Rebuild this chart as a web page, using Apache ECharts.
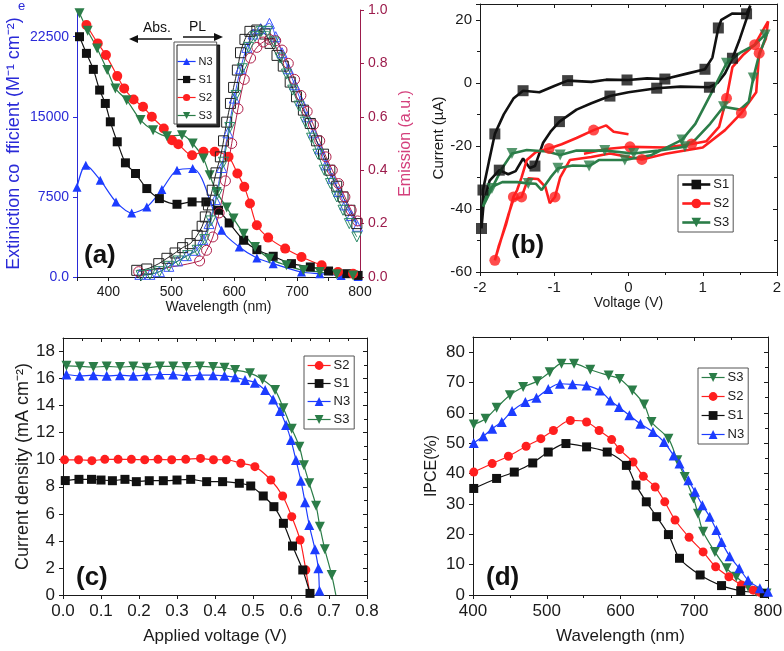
<!DOCTYPE html>
<html>
<head>
<meta charset="utf-8">
<script src="https://cdn.jsdelivr.net/npm/echarts@6/dist/echarts.min.js"></script>
<style>
html, body { margin: 0; padding: 0; background: #fff; }
#chart { width: 784px; height: 651px; }
</style>
</head>
<body>
<div id="chart"></div>
<script>
// (a) absorption [wavelength, extinction coefficient]
const absN3 = [[350,8400],[364,10470],[387,9060],[412,7030],[437,6000],[461,6560],[485,8190],[509,10000],[534,10160],[580,4380],[608,2810],[636,1780],[662,1250],[707,470],[736,310],[770,150],[797,50]]
const absS1 = [[354,22500],[365,20940],[376,19440],[386,17500],[395,16250],[403,14530],[414,12660],[427,10690],[443,9690],[461,8280],[481,7340],[509,6810],[533,7030],[555,7030],[575,6250],[592,5060],[615,3440],[636,2560],[662,1940],[691,1250],[721,940],[750,560],[779,310],[797,150]]
const absS2 = [[365,23590],[383,21875],[396,20780],[414,18810],[425,17660],[440,16625],[455,15940],[469,15000],[488,13900],[501,12810],[511,12440],[533,11400],[551,11720],[569,11720],[591,11250],[605,9690],[616,8440],[625,6875],[636,4840],[654,3690],[681,2660],[707,1875],[739,1090],[765,470],[789,310]]
const absS3 = [[354,24690],[367,23060],[382,21400],[398,19375],[411,17660],[429,16560],[451,14690],[471,13750],[493,13190],[517,13280],[534,12500],[551,11090],[561,9530],[572,7970],[588,6500],[599,5470],[615,4060],[633,2810],[656,1720],[683,1090],[710,625],[736,470],[763,250],[789,150]]

// (a) emission [wavelength, a.u.]
const emN3 = [[450,0.01],[466,0.01],[481,0.02],[496,0.04],[510,0.06],[524,0.08],[538,0.1],[550,0.14],[560,0.2],[570,0.29],[580,0.41],[590,0.54],[600,0.67],[610,0.78],[620,0.86],[630,0.91],[642,0.93],[656,0.95],[666,0.9],[676,0.84],[686,0.78],[696,0.72],[706,0.66],[716,0.6],[726,0.54],[736,0.48],[746,0.42],[756,0.37],[766,0.32],[776,0.27],[786,0.23],[796,0.19]]
const emS1 = [[445,0.025],[461,0.03],[480,0.05],[493,0.07],[506,0.09],[518,0.11],[530,0.125],[541,0.156],[549,0.19],[554,0.225],[559,0.27],[565,0.325],[571,0.39],[578,0.45],[583,0.51],[588,0.58],[594,0.65],[599,0.71],[605,0.775],[610,0.84],[617,0.89],[625,0.92],[636,0.925],[649,0.91],[657,0.875],[668,0.83],[678,0.79],[689,0.73],[699,0.675],[710,0.625],[721,0.575],[731,0.51],[742,0.46],[752,0.4],[763,0.34],[773,0.3],[784,0.25],[795,0.2]]
const emS2 = [[448,0.02],[545,0.06],[556,0.1],[566,0.15],[576,0.24],[586,0.36],[596,0.5],[606,0.63],[616,0.74],[626,0.82],[636,0.86],[646,0.88],[656,0.89],[666,0.885],[676,0.85],[686,0.8],[696,0.74],[706,0.68],[716,0.62],[726,0.57],[736,0.51],[746,0.45],[756,0.4],[766,0.35],[776,0.3],[786,0.25],[796,0.21]]
const emS3 = [[452,0.005],[466,0.01],[481,0.02],[496,0.04],[511,0.06],[526,0.08],[541,0.1],[553,0.14],[563,0.21],[573,0.31],[583,0.43],[593,0.56],[603,0.68],[613,0.78],[623,0.86],[633,0.9],[643,0.92],[653,0.92],[663,0.88],[673,0.82],[683,0.76],[693,0.7],[703,0.64],[713,0.58],[723,0.52],[733,0.46],[743,0.4],[753,0.35],[763,0.3],[773,0.25],[783,0.2],[795,0.15]]

// (b) cyclic voltammetry [V, uA] traces and marked points
const cvS1 = [[0,0.9],[-0.3,1.0],[-0.5,0.3],[-0.82,0.7],[-1.0,-1],[-1.2,-3],[-1.42,-2.5],[-1.55,-5],[-1.68,-10],[-1.8,-16.2],[-1.88,-25],[-1.96,-34],[-1.98,-46.2],[-1.95,-38],[-1.87,-31],[-1.74,-27.7],[-1.62,-29],[-1.52,-28],[-1.42,-24],[-1.33,-27],[-1.26,-26.4],[-1.15,-19],[-1.05,-15.5],[-0.93,-12.3],[-0.7,-8.5],[-0.5,-6.5],[-0.25,-4.2],[0,-3],[0.38,-1.7],[0.7,-1.2],[1.09,-1.4],[1.2,0],[1.3,3],[1.4,7.8],[1.5,14],[1.6,21],[1.64,24.5],[1.59,21.9],[1.4,22],[1.25,20],[1.21,17.4],[1.13,8],[1.03,4.3],[0.8,3],[0.49,1.2],[0.25,1.4],[0,0.9]]
const cvS1Marks = [[-0.02,0.9],[-0.82,0.7],[-1.42,-2.5],[-1.8,-16.2],[-1.96,-34],[-1.98,-46.2],[-1.74,-27.7],[-1.26,-26.4],[-0.93,-12.3],[-0.25,-4.2],[0.38,-1.7],[1.09,-1.4],[1.4,7.8],[1.59,21.9],[1.21,17.4],[1.03,4.3],[0.49,1.2]]
const cvS2 = [[0,-16.3],[-0.2,-15.5],[-0.3,-13.5],[-0.47,-15],[-0.7,-17.5],[-0.9,-19.5],[-1.07,-20.8],[-1.25,-22],[-1.37,-24.5],[-1.44,-30],[-1.5,-34],[-1.55,-36.2],[-1.65,-45],[-1.75,-52],[-1.8,-56.3],[-1.72,-50],[-1.62,-42],[-1.55,-37],[-1.44,-36.2],[-1.35,-30.3],[-1.22,-30.5],[-1.12,-33],[-1.06,-38.2],[-0.99,-36.2],[-0.92,-30],[-0.79,-24.5],[-0.5,-23.5],[-0.25,-22.4],[0.18,-24.3],[0.5,-22.5],[1.0,-20.5],[1.3,-15],[1.52,-9.6],[1.72,-3],[1.76,9.4],[1.85,14],[1.88,19.5],[1.7,12.1],[1.55,9],[1.4,5],[1.32,-4.9],[1.22,-14],[1.05,-18.5],[0.85,-19.4],[0.5,-20.5],[0.02,-20.3],[-0.3,-21],[-0.6,-22.5]]
const cvS2Marks = [[-1.8,-56.3],[-1.55,-36.2],[-1.44,-36.2],[-0.99,-36.2],[-1.07,-20.8],[-0.47,-15],[0.02,-20.3],[0.18,-24.3],[0.85,-19.4],[1.32,-4.9],[1.52,-9.6],[1.7,12.1],[1.76,9.4]]
const cvS3 = [[1.87,16],[1.75,8],[1.68,1.5],[1.62,-6],[1.5,-8.5],[1.28,-7.6],[1.1,-13],[0.9,-18],[0.76,-20.3],[0.4,-21.5],[0.07,-22.4],[-0.32,-21.5],[-0.7,-21.5],[-0.92,-22.9],[-1.1,-21.8],[-1.37,-21.3],[-1.57,-22.4],[-1.7,-27],[-1.84,-33.5],[-1.96,-39.3],[-1.9,-35],[-1.84,-33],[-1.7,-31.5],[-1.5,-31.5],[-1.35,-31.9],[-1.25,-32],[-1.17,-34],[-1.05,-30],[-0.95,-27.1],[-0.75,-26.2],[-0.53,-26.4],[-0.4,-24.5],[-0.05,-24.5],[0.3,-23],[0.72,-18.1],[0.9,-13],[1.1,-4],[1.32,6.2],[1.5,9.5],[1.7,12],[1.87,16]]
const cvS3Marks = [[1.84,15.2],[1.68,1.5],[1.28,-7.6],[0.76,-20.3],[0.07,-22.4],[-0.32,-21.5],[-0.92,-22.9],[-1.57,-22.4],[-1.84,-33.5],[-1.35,-31.9],[-0.95,-27.1],[-0.53,-26.4],[-0.05,-24.5],[0.72,-18.1],[1.32,6.2]]

// (c) J-V curves [V, mA cm-2]; points with J = 0 are curve ends only
const jvS2 = [[0.004,9.99],[0.041,10],[0.076,9.93],[0.11,10.03],[0.145,10.03],[0.18,10.03],[0.215,10],[0.25,10.03],[0.286,10],[0.323,10.03],[0.362,10.1],[0.396,10],[0.43,10],[0.468,9.74],[0.505,9.49],[0.547,8.5],[0.578,7.32],[0.602,5.79],[0.624,4.07],[0.639,1.85],[0.65,0]]
const jvS1 = [[0.006,8.46],[0.042,8.55],[0.075,8.55],[0.1,8.5],[0.13,8.45],[0.163,8.55],[0.193,8.38],[0.227,8.45],[0.264,8.45],[0.3,8.5],[0.336,8.55],[0.378,8.38],[0.42,8.38],[0.464,8.26],[0.494,8.06],[0.527,7.32],[0.555,6.53],[0.58,5.3],[0.604,3.62],[0.631,1.85],[0.65,0.12]]
const jvN3 = [[0.009,16.3],[0.044,16.2],[0.08,16.25],[0.115,16.2],[0.15,16.25],[0.185,16.2],[0.22,16.25],[0.255,16.3],[0.29,16.3],[0.325,16.2],[0.36,16.25],[0.395,16.25],[0.425,16.2],[0.453,16.1],[0.479,15.9],[0.505,15.7],[0.532,15.15],[0.553,14.46],[0.571,13.6],[0.587,12.56],[0.6,11.45],[0.613,9.98],[0.626,8.45],[0.637,6.85],[0.648,5.17],[0.663,3.38],[0.672,1.97],[0.675,0.32],[0.678,0]]
const jvS3 = [[0.009,16.94],[0.044,16.9],[0.08,16.85],[0.115,16.9],[0.15,16.85],[0.185,16.9],[0.22,16.8],[0.255,16.9],[0.29,16.9],[0.325,16.85],[0.36,16.9],[0.395,16.85],[0.425,16.8],[0.453,16.63],[0.492,16.4],[0.525,15.94],[0.558,15.15],[0.58,13.8],[0.602,12.3],[0.622,10.96],[0.634,9.6],[0.648,8.26],[0.666,6.6],[0.676,5.05],[0.689,3.38],[0.707,1.48],[0.718,0]]

// (d) IPCE [wavelength, %]
const ipceS3 = [[401,56.2],[417,58.1],[432,61.7],[450,65.8],[468,68.5],[487,70.4],[504,73.4],[520,76.2],[537,76.2],[559,74.2],[584,72.3],[599,71.2],[616,67.4],[632,62.8],[642,57],[665,51.5],[677,44.4],[687,38.9],[699,31.8],[705,26.8],[712,20.8],[728,14.2],[744,8.8],[757,6],[773,2.7],[784,1.1],[798,0.5]]
const ipceS2 = [[401,40.5],[426,43.3],[448,45.7],[472,49],[492,51.5],[509,54.2],[532,57.5],[554,57],[571,54.2],[588,51.2],[599,47.9],[617,43.8],[631,39.1],[647,35.6],[660,30.7],[674,24.7],[693,19],[712,14.2],[729,9.3],[747,6],[764,3.3],[780,1.6],[789,0.9]]
const ipceS1 = [[401,35.1],[432,38.4],[456,40.5],[481,43.5],[502,47.1],[526,49.9],[554,48.8],[582,47.1],[608,42.7],[621,36.2],[635,30.7],[649,25.8],[665,19.9],[680,12.1],[708,6.6],[737,3.1],[763,1.4],[795,0.5]]
const ipceN3 = [[401,50.1],[414,52.3],[426,54.8],[439,57],[453,60.6],[471,63.6],[486,65],[502,67.9],[518,69.6],[535,69.4],[554,69],[572,67.4],[586,64.1],[598,61.9],[612,59.2],[627,56.4],[644,53.7],[659,50.4],[672,46],[680,43.3],[692,37.8],[701,34],[711,29.6],[721,25.8],[730,21.4],[737,17.5],[748,12.8],[761,8.8],[773,4.9],[789,2.2],[800,1.1]]

const chart = echarts.init(document.getElementById('chart'))
const FONT = 'Liberation Sans'
const INK = '#1a1a1a'
const COL = { N3: '#1c3cff', S1: '#111111', S2: '#ff1f1f', S3: '#2b7d48' }
const SYM = { N3: 'triangle', S1: 'rect', S2: 'circle', S3: 'path://M0,0L10,0L5,9Z' }
const EM = { N3: '#3a55ff', S1: '#222222', S2: '#b0204a', S3: '#2a8a66' }

const mk = (key, data, xi, yi, size) => ({
	name: key, type: 'line', data: data, xAxisIndex: xi, yAxisIndex: yi,
	symbol: SYM[key], symbolSize: size, smooth: 0.3,
	itemStyle: { color: COL[key] },
	lineStyle: { color: COL[key], width: 1.2 },
	emphasis: { disabled: true }
})
// open markers for emission
const em = (key, data) => ({
	name: key + ' PL', type: 'line', data: data, xAxisIndex: 0, yAxisIndex: 1,
	symbol: SYM[key], symbolSize: 10, smooth: 0.3,
	itemStyle: { color: 'rgba(255,255,255,0)', borderColor: EM[key], borderWidth: 1 },
	lineStyle: { color: EM[key], width: 1 },
	emphasis: { disabled: true }
})
// end points at J = 0 drawn without marker
const ends = data => data.map(p => (p[1] === 0 ? { value: p, symbol: 'none' } : p))
const cvLine = (key, data) => ({
	name: key, type: 'line', data: data, xAxisIndex: 1, yAxisIndex: 2, symbol: 'none',
	lineStyle: { color: COL[key], width: 2.6 }, itemStyle: { color: COL[key] }, emphasis: { disabled: true }
})
const cvMarks = (key, data) => ({
	name: key, type: 'scatter', data: data, xAxisIndex: 1, yAxisIndex: 2,
	symbol: SYM[key], symbolSize: 11, itemStyle: { color: COL[key] }, emphasis: { disabled: true }, z: 4
})

const lbl = (size, color, fmt, extra) => Object.assign({ color: color || INK, fontFamily: FONT, fontSize: size, formatter: fmt }, extra || {})
const nm = (size, color) => ({ color: color || INK, fontFamily: FONT, fontSize: size })
const line = color => ({ show: true, onZero: false, lineStyle: { color: color || INK, width: 1 } })
const tick = (inside, color) => ({ show: true, inside: inside, length: 4, lineStyle: { color: color || INK } })
const mirror = (grid, pos, min, max, interval) => ({
	type: 'value', gridIndex: grid, position: pos, min: min, max: max, interval: interval,
	axisLine: line(), axisTick: tick(true), axisLabel: { show: false }, splitLine: { show: false },
	minorTick: { show: true, splitNumber: 2, length: 3, lineStyle: { color: INK } }
})
const legendBox = (names, left, top, w, h, gap, font, lw) => ({
	data: names, left: left, top: top, orient: 'vertical', selectedMode: false,
	itemWidth: w, itemHeight: h, itemGap: gap, padding: [3, 4, 3, 3],
	textStyle: { fontSize: font, fontFamily: FONT, color: INK, padding: [0, 0, 0, -2] },
	lineStyle: { width: lw }, backgroundColor: '#fff', borderColor: '#555', borderWidth: 1
})

const option = {
	backgroundColor: '#fff',
	animation: false,
	grid: [
		{ left: 77, top: 10, width: 283, height: 267, outerBoundsMode: 'none' },
		{ left: 480, top: 4, width: 297, height: 268, outerBoundsMode: 'none' },
		{ left: 63, top: 338, width: 304, height: 257, outerBoundsMode: 'none' },
		{ left: 473, top: 337, width: 295, height: 258, outerBoundsMode: 'none' }
	],
	xAxis: [
		{
			type: 'value', gridIndex: 0, min: 350, max: 800, interval: 50,
			axisLine: line(), axisTick: tick(false), splitLine: { show: false },
			axisLabel: lbl(14, INK, v => (v % 100 === 0 ? v : '')),
			name: 'Wavelength (nm)', nameLocation: 'middle', nameGap: 18, nameTextStyle: nm(14)
		},
		{
			type: 'value', gridIndex: 1, min: -2, max: 2, interval: 1,
			axisLine: line(), axisTick: tick(false), splitLine: { show: false },
			minorTick: { show: true, splitNumber: 2, length: 3, lineStyle: { color: INK } },
			axisLabel: lbl(15),
			name: 'Voltage (V)', nameLocation: 'middle', nameGap: 22, nameTextStyle: nm(14)
		},
		{
			type: 'value', gridIndex: 2, min: 0, max: 0.8, interval: 0.1,
			axisLine: line(), axisTick: tick(false), splitLine: { show: false },
			axisLabel: lbl(17, INK, v => v.toFixed(1)),
			name: 'Applied voltage (V)', nameLocation: 'middle', nameGap: 33, nameTextStyle: nm(17)
		},
		{
			type: 'value', gridIndex: 3, min: 400, max: 800, interval: 100,
			axisLine: line(), axisTick: tick(false), splitLine: { show: false },
			minorTick: { show: true, splitNumber: 2, length: 3, lineStyle: { color: INK } },
			axisLabel: lbl(17),
			name: 'Wavelength (nm)', nameLocation: 'middle', nameGap: 33, nameTextStyle: nm(17)
		},
		mirror(1, 'top', -2, 2, 1),
		mirror(2, 'top', 0, 0.8, 0.1),
		mirror(3, 'top', 400, 800, 100)
	],
	yAxis: [
		{
			type: 'value', gridIndex: 0, min: 0, max: 25000, interval: 7500,
			axisLine: line('#2a2ad8'), axisTick: tick(false, '#2a2ad8'), splitLine: { show: false },
			axisLabel: lbl(14, '#2a2ad8', v => (v === 0 ? '0.0' : v), { showMaxLabel: false }),
			name: 'Extiniction co  fficient (M⁻¹ cm⁻²)', nameLocation: 'middle', nameRotate: 90, nameGap: 54,
			nameTextStyle: nm(18, '#2a2ad8')
		},
		{
			type: 'value', gridIndex: 0, position: 'right', min: 0, max: 1, interval: 0.2,
			axisLine: line('#9c1c4c'), axisTick: tick(false, '#9c1c4c'), splitLine: { show: false },
			axisLabel: lbl(14, '#9c1c4c', v => v.toFixed(1)),
			name: 'Emission (a.u.)', nameLocation: 'middle', nameRotate: 90, nameGap: 38,
			nameTextStyle: nm(16, '#d4407c')
		},
		{
			type: 'value', gridIndex: 1, min: -60, max: 25, interval: 20,
			axisLine: line(), axisTick: tick(false), splitLine: { show: false },
			minorTick: { show: true, splitNumber: 2, length: 3, lineStyle: { color: INK } },
			axisLabel: lbl(15, INK, null, { showMaxLabel: false }),
			name: 'Current (µA)', nameLocation: 'middle', nameRotate: 90, nameGap: 34, nameTextStyle: nm(15)
		},
		{
			type: 'value', gridIndex: 2, min: 0, max: 19, interval: 2,
			axisLine: line(), axisTick: tick(false), splitLine: { show: false },
			axisLabel: lbl(17, INK, null, { showMaxLabel: false }),
			name: 'Current density (mA cm⁻²)', nameLocation: 'middle', nameRotate: 90, nameGap: 28, nameTextStyle: nm(18)
		},
		{
			type: 'value', gridIndex: 3, min: 0, max: 85, interval: 10,
			axisLine: line(), axisTick: tick(false), splitLine: { show: false },
			axisLabel: lbl(17, INK, null, { showMaxLabel: false }),
			name: 'IPCE(%)', nameLocation: 'middle', nameRotate: 90, nameGap: 33, nameTextStyle: nm(16)
		},
		mirror(1, 'right', -60, 25, 20),
		mirror(2, 'right', 0, 19, 2),
		mirror(3, 'right', 0, 85, 10)
	],
	legend: [
		Object.assign(legendBox(['N3', 'S1', 'S2', 'S3'], 174, 42, 18, 9, 7, 11, 1.2), {
			padding: [14, 4, 3, 3], shadowColor: 'rgba(0,0,0,0.85)', shadowOffsetX: 3, shadowOffsetY: 3, shadowBlur: 0
		}),
		legendBox(['S1', 'S2', 'S3'], 678, 175, 28, 12, 6, 13, 2.6),
		legendBox(['S2', 'S1', 'N3', 'S3'], 304, 356, 23, 11, 5, 13, 1.2),
		legendBox(['S3', 'S2', 'S1', 'N3'], 698, 368, 23, 11, 6, 13, 1.2)
	],
	graphic: [
		{ type: 'text', left: 84, top: 243, style: { text: '(a)', font: 'bold 26px "Liberation Sans"', fill: '#111' } },
		{ type: 'text', left: 511, top: 233, style: { text: '(b)', font: 'bold 26px "Liberation Sans"', fill: '#111' } },
		{ type: 'text', left: 76, top: 565, style: { text: '(c)', font: 'bold 26px "Liberation Sans"', fill: '#111' } },
		{ type: 'text', left: 486, top: 565, style: { text: '(d)', font: 'bold 26px "Liberation Sans"', fill: '#111' } },
		{ type: 'text', left: 143, top: 21, style: { text: 'Abs.', font: '14px "Liberation Sans"', fill: '#111' } },
		{ type: 'text', left: 189, top: 20, style: { text: 'PL', font: '14px "Liberation Sans"', fill: '#111' } },
		{ type: 'text', left: 18, top: 0, style: { text: 'e', font: '13px "Liberation Sans"', fill: '#2a2ad8' } },
		{ type: 'line', shape: { x1: 172, y1: 39, x2: 135, y2: 39 }, style: { stroke: '#111', lineWidth: 1.6 } },
		{ type: 'polygon', shape: { points: [[129, 39], [138, 35], [138, 43]] }, style: { fill: '#111' } },
		{ type: 'line', shape: { x1: 183, y1: 37, x2: 217, y2: 37 }, style: { stroke: '#111', lineWidth: 1.6 } },
		{ type: 'polygon', shape: { points: [[223, 37], [214, 33], [214, 41]] }, style: { fill: '#111' } }
	],
	series: [
		mk('N3', absN3, 0, 0, 9),
		mk('S1', absS1, 0, 0, 9),
		mk('S2', absS2, 0, 0, 10),
		mk('S3', absS3, 0, 0, 10),
		em('N3', emN3), em('S1', emS1), em('S2', emS2), em('S3', emS3),
		cvLine('S1', cvS1), cvLine('S2', cvS2), cvLine('S3', cvS3),
		cvMarks('S1', cvS1Marks), cvMarks('S2', cvS2Marks), cvMarks('S3', cvS3Marks),
		mk('S2', ends(jvS2), 2, 3, 9), mk('S1', ends(jvS1), 2, 3, 9),
		mk('N3', ends(jvN3), 2, 3, 10), mk('S3', ends(jvS3), 2, 3, 10),
		mk('S3', ipceS3, 3, 4, 10), mk('S2', ipceS2, 3, 4, 9),
		mk('S1', ipceS1, 3, 4, 9), mk('N3', ipceN3, 3, 4, 10)
	]
}

chart.setOption(option)
</script>
</body>
</html>
